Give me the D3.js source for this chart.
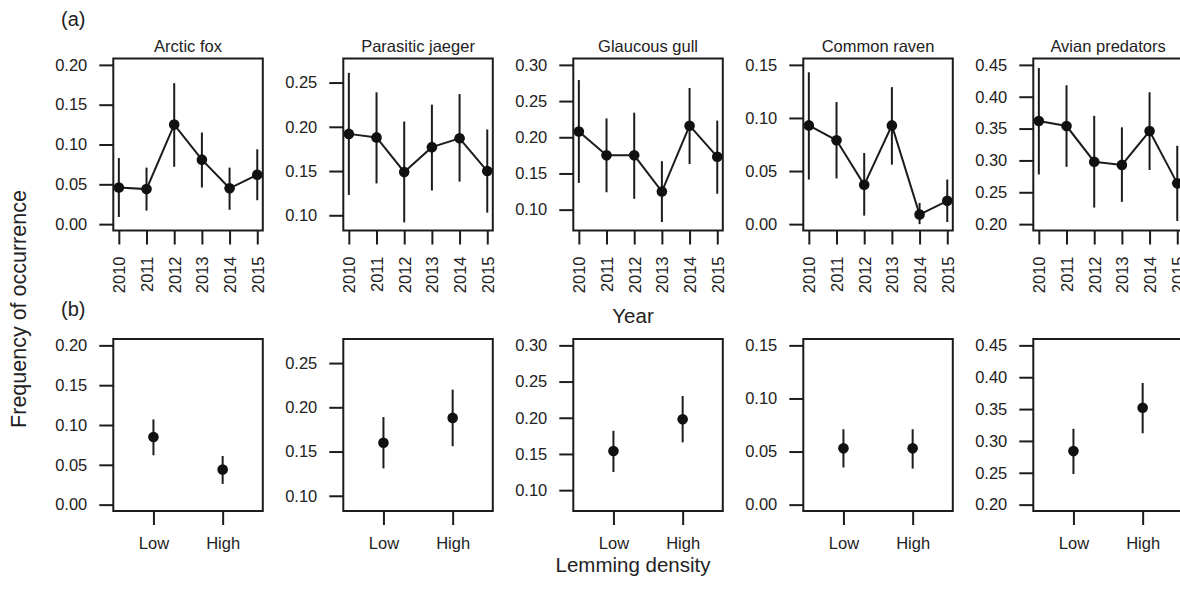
<!DOCTYPE html>
<html>
<head>
<meta charset="utf-8">
<script src="https://cdn.jsdelivr.net/npm/d3@7"></script>
<style>
  body { margin: 0; background: #fff; }
  svg text { font-family: "Liberation Sans", Arial, Helvetica, sans-serif; fill: #222; }
</style>
</head>
<body>
<div id="chart"></div>
<script>
// species panels, left to right
var species = ["Arctic fox", "Parasitic jaeger", "Glaucous gull", "Common raven", "Avian predators"];
var years = ["2010", "2011", "2012", "2013", "2014", "2015"];
var density = ["Low", "High"];

// y limits and ticks for each species (same in both rows)
var yLimits = [[0, 0.20], [0.09, 0.27], [0.08, 0.30], [0, 0.15], [0.20, 0.45]];
var yTicks = [
    [0, 0.05, 0.10, 0.15, 0.20],
    [0.10, 0.15, 0.20, 0.25],
    [0.10, 0.15, 0.20, 0.25, 0.30],
    [0, 0.05, 0.10, 0.15],
    [0.20, 0.25, 0.30, 0.35, 0.40, 0.45]
];

// (a) frequency by year: estimate, lower and upper bound
var yearMean = [
    [0.046, 0.044, 0.125, 0.081, 0.045, 0.062],
    [0.192, 0.188, 0.149, 0.177, 0.187, 0.150],
    [0.208, 0.175, 0.175, 0.125, 0.216, 0.173],
    [0.093, 0.079, 0.037, 0.093, 0.009, 0.022],
    [0.362, 0.354, 0.298, 0.293, 0.346, 0.264]
];
var yearLow = [
    [0.009, 0.017, 0.072, 0.046, 0.018, 0.030],
    [0.123, 0.136, 0.092, 0.128, 0.138, 0.103],
    [0.137, 0.124, 0.115, 0.083, 0.163, 0.122],
    [0.042, 0.043, 0.008, 0.056, 0.000, 0.002],
    [0.278, 0.290, 0.226, 0.235, 0.285, 0.205]
];
var yearHigh = [
    [0.083, 0.071, 0.177, 0.115, 0.071, 0.094],
    [0.261, 0.239, 0.206, 0.225, 0.237, 0.197],
    [0.279, 0.226, 0.234, 0.167, 0.268, 0.223],
    [0.143, 0.115, 0.067, 0.129, 0.020, 0.042],
    [0.445, 0.418, 0.370, 0.352, 0.407, 0.323]
];

// (b) frequency by lemming density
var densMean = [[0.085, 0.044], [0.160, 0.188], [0.154, 0.198], [0.053, 0.053], [0.284, 0.352]];
var densLow  = [[0.062, 0.026], [0.131, 0.156], [0.125, 0.166], [0.035, 0.034], [0.248, 0.312]];
var densHigh = [[0.107, 0.061], [0.189, 0.220], [0.182, 0.230], [0.071, 0.071], [0.319, 0.391]];

var W = 1180, H = 607;
var ink = "#1c1c1c";
var panelLeft = 113.3, panelStep = 230, panelW = 149.5, panelH = 172;
var rowTop = [58.5, 339];

var svg = d3.select("#chart").append("svg")
    .attr("width", W)
    .attr("height", H);

// R style axis range: pad the limits by 4% each side
function padded(lim) {
    var d = (lim[1] - lim[0]) * 0.04;
    return [lim[0] - d, lim[1] + d];
}

function drawPanel(i, row) {
    var x0 = panelLeft + i * panelStep, y0 = rowTop[row];
    var g = svg.append("g").attr("transform", "translate(" + x0 + "," + y0 + ")");

    var y = d3.scaleLinear().domain(padded(yLimits[i])).range([panelH, 0]);
    var cats = row === 0 ? years : density;
    var x = d3.scalePoint().domain(cats).range([0, panelW]).padding(row === 0 ? 0.2 : 0.58);

    var mean = row === 0 ? yearMean[i] : densMean[i];
    var lo = row === 0 ? yearLow[i] : densLow[i];
    var hi = row === 0 ? yearHigh[i] : densHigh[i];
    var pts = cats.map(function(c, k) { return { c: c, m: mean[k], lo: lo[k], hi: hi[k] }; });

    // y axis
    var ya = g.append("g")
        .call(d3.axisLeft(y).tickValues(yTicks[i]).tickSize(14).tickPadding(12)
            .tickFormat(d3.format(".2f")));
    ya.select(".domain").remove();
    ya.selectAll("line").attr("stroke", ink).attr("stroke-width", 2);
    ya.selectAll("text").style("font-size", "16.5px").attr("fill", "#222");

    // x axis
    var xa = g.append("g")
        .attr("transform", "translate(0," + panelH + ")")
        .call(d3.axisBottom(x).tickSize(14).tickPadding(12));
    xa.select(".domain").remove();
    xa.selectAll("line").attr("stroke", ink).attr("stroke-width", 2);
    xa.selectAll("text").style("font-size", "16.5px").attr("fill", "#222");
    if (row === 0) {
        xa.selectAll("text")
            .attr("transform", "rotate(-90)")
            .attr("x", -26)
            .attr("y", 0)
            .attr("dy", "0.36em")
            .attr("text-anchor", "end");
    }

    // error bars
    g.selectAll(".err").data(pts).enter().append("line")
        .attr("x1", function(d) { return x(d.c); })
        .attr("x2", function(d) { return x(d.c); })
        .attr("y1", function(d) { return y(d.lo); })
        .attr("y2", function(d) { return y(d.hi); })
        .attr("stroke", ink)
        .attr("stroke-width", 2);

    if (row === 0) {
        g.append("path")
            .datum(pts)
            .attr("fill", "none")
            .attr("stroke", ink)
            .attr("stroke-width", 2)
            .attr("d", d3.line().x(function(d) { return x(d.c); }).y(function(d) { return y(d.m); }));
    }

    g.selectAll(".pt").data(pts).enter().append("circle")
        .attr("cx", function(d) { return x(d.c); })
        .attr("cy", function(d) { return y(d.m); })
        .attr("r", 5.3)
        .attr("fill", "#111");

    // box
    g.append("rect")
        .attr("width", panelW)
        .attr("height", panelH)
        .attr("fill", "none")
        .attr("stroke", ink)
        .attr("stroke-width", 2);

    if (row === 0) {
        g.append("text")
            .attr("x", panelW / 2)
            .attr("y", -6.5)
            .attr("text-anchor", "middle")
            .style("font-size", "16.5px")
            .text(species[i]);
    }
}

for (var r = 0; r < 2; r++) {
    for (var i = 0; i < species.length; i++) drawPanel(i, r);
}

// labels
svg.append("text").attr("x", 61).attr("y", 26).style("font-size", "20px").text("(a)");
svg.append("text").attr("x", 61).attr("y", 316).style("font-size", "20px").text("(b)");

svg.append("text")
    .attr("x", 633).attr("y", 323)
    .attr("text-anchor", "middle")
    .style("font-size", "20.5px")
    .text("Year");

svg.append("text")
    .attr("x", 633).attr("y", 572)
    .attr("text-anchor", "middle")
    .style("font-size", "20.5px")
    .text("Lemming density");

svg.append("text")
    .attr("transform", "translate(26,309) rotate(-90)")
    .attr("text-anchor", "middle")
    .style("font-size", "21.5px")
    .text("Frequency of occurrence");
</script>
</body>
</html>
